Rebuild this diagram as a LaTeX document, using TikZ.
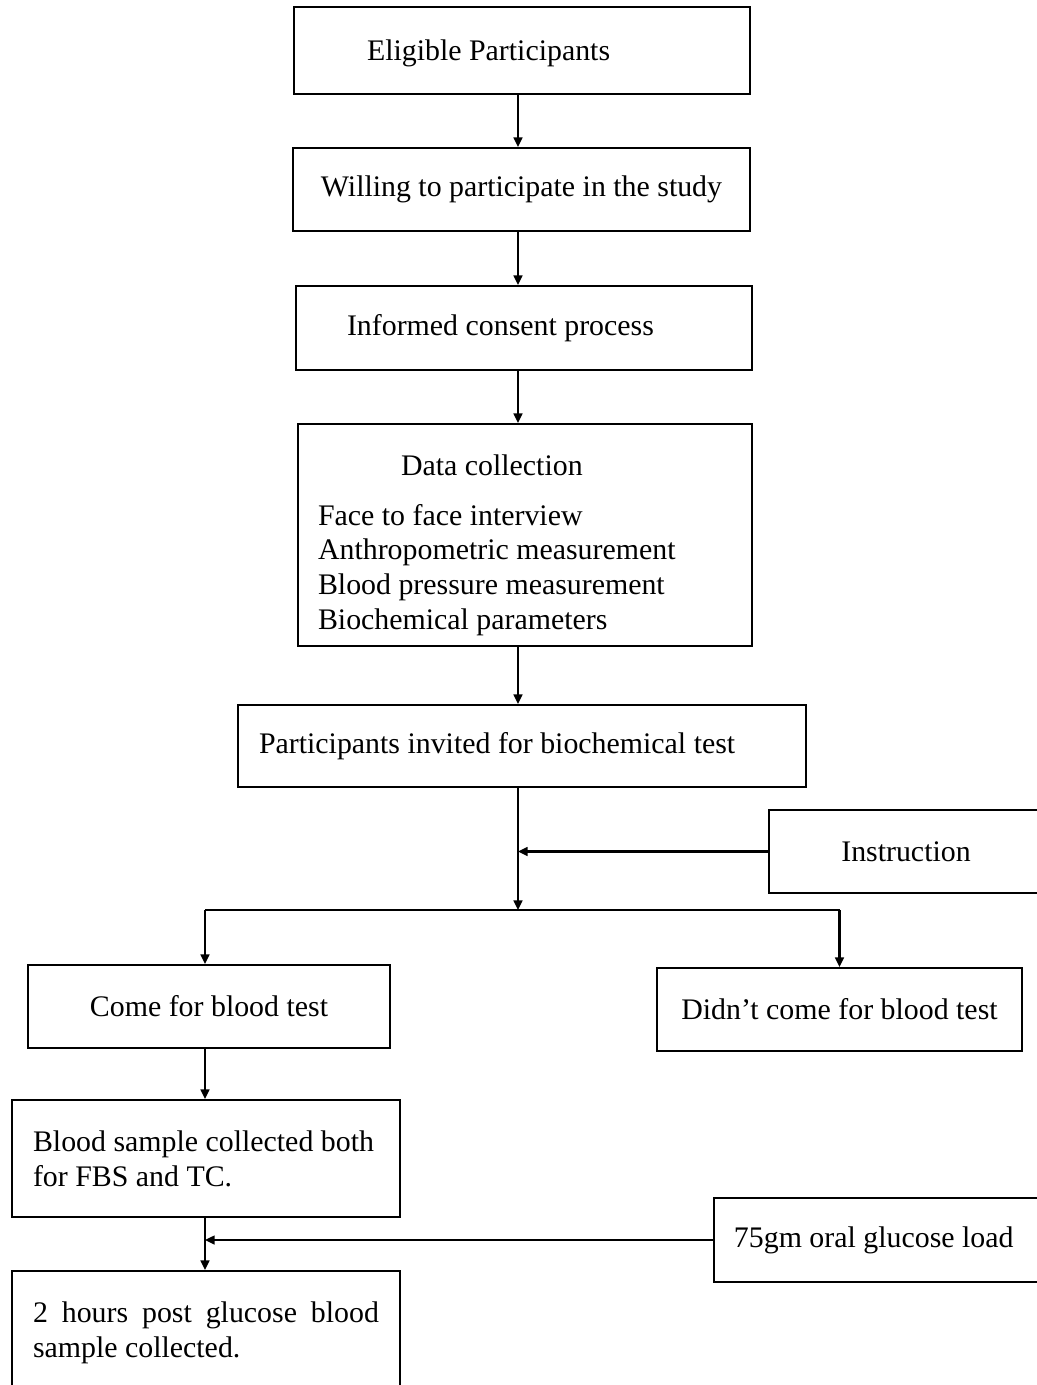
\documentclass[tikz,border=0pt]{standalone}
\usepackage{fontspec}
\setmainfont{Liberation Serif}
\usepackage{tikz}
\usetikzlibrary{arrows.meta, positioning, calc}

\begin{document}
\begin{tikzpicture}[x=0.02cm, y=-0.02cm,
    box/.style={draw=black, line width=1.1pt, inner xsep=0pt, inner ysep=4pt,
      minimum height=1.66cm, font=\fontsize{17pt}{19.8pt}\selectfont},
    flow/.style={line width=1.2pt, -{Triangle[length=5.5pt, width=5pt]}},
    link/.style={line width=1.2pt}]
    \useasboundingbox (0,0) rectangle (1037,1385);
    \clip (0,0) rectangle (1037,1385);
    \fill[white] (0,0) rectangle (1037,1385);

    % main column
    \node[box, minimum width=9.12cm, minimum height=1.74cm, text width=6.2cm, align=flush left] (eligible) at (522,50.5) {\rule{0pt}{0.52cm}Eligible Participants};
    \node[box, minimum width=9.14cm, align=center] (willing) at (521.5,189.5) {Willing to participate in the study};
    \node[box, minimum width=9.12cm, minimum height=1.68cm, text width=7.08cm, align=flush left] (consent) at (524,328) {Informed consent process};
    \node[box, minimum width=9.08cm, minimum height=4.44cm, text width=8.28cm, align=flush left] (datacoll) at (525,535)
      {\rule{0pt}{0.82cm}\hspace*{1.66cm}Data collection\\[0.3cm]
       Face to face interview\\
       Anthropometric measurement\\
       Blood pressure measurement\\
       Biochemical parameters};
    \node[box, minimum width=11.36cm, minimum height=1.64cm, text width=10.52cm, align=flush left] (invited) at (522,746) {Participants invited for biochemical test};
    \node[box, minimum width=5.48cm, align=center] (instr) at (906,851.5) {Instruction};

    % two branches
    \node[box, minimum width=7.24cm, align=center] (come) at (209,1006.5) {Come for blood test};
    \node[box, minimum width=7.3cm, align=center] (didnt) at (839.5,1009.5) {Didn't come for blood test};
    \node[box, minimum width=7.76cm, minimum height=2.34cm, text width=6.92cm, align=flush left] (sample) at (206,1158.5)
      {Blood sample collected both\\for FBS and TC.};
    \node[box, anchor=west, minimum width=6.94cm, minimum height=1.68cm, text width=6.14cm, align=flush left] (load) at (713,1240) {75gm oral glucose load};
    \node[box, anchor=north, minimum width=7.76cm, inner ysep=0.62cm, text width=6.92cm, align=justify] (post) at (206,1270)
      {2 hours post glucose blood sample collected.\par\vspace*{1.2cm}\hbox{}};

    % connectors
    \coordinate (trunk) at (518,0);
    \coordinate (leftcol) at (205,0);
    \coordinate (split) at (518,910);
    \draw[flow] (trunk |- eligible.south) -- (trunk |- willing.north);
    \draw[flow] (trunk |- willing.south) -- (trunk |- consent.north);
    \draw[flow] (trunk |- consent.south) -- (trunk |- datacoll.north);
    \draw[flow] (trunk |- datacoll.south) -- (trunk |- invited.north);
    \draw[flow] (trunk |- invited.south) -- (split);
    \draw[flow] (instr.west) -- (instr.west -| split);
    \draw[link] (leftcol |- split) -- (didnt.north |- split);
    \draw[flow] (leftcol |- split) -- (leftcol |- come.north);
    \draw[flow] (didnt.north |- split) -- (didnt.north);
    \draw[flow] (leftcol |- come.south) -- (leftcol |- sample.north);
    \draw[flow] (leftcol |- sample.south) -- (leftcol |- post.north);
    \draw[flow] (load.west) -- (load.west -| leftcol);
\end{tikzpicture}
\end{document}
